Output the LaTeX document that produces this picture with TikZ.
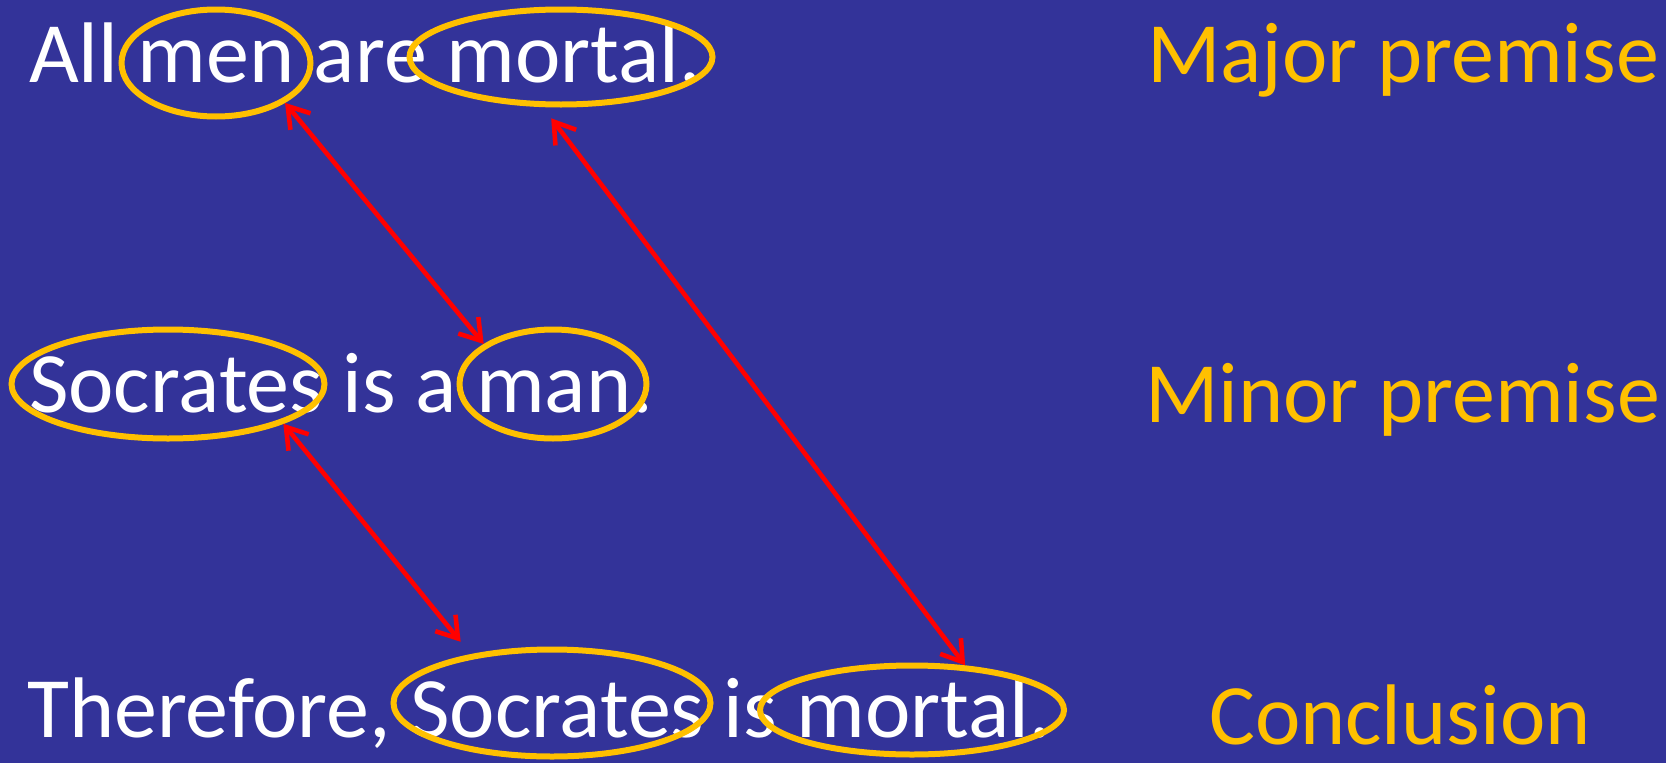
\documentclass[tikz,border=0pt]{standalone}
\usepackage{fontspec}
\setmainfont{Carlito}
\usetikzlibrary{shapes.geometric,arrows.meta}
\definecolor{bg}{HTML}{333399}
\definecolor{gold}{HTML}{FFC000}
\definecolor{arrowred}{HTML}{FF0000}
\begin{document}
\begin{tikzpicture}[x=1pt,y=-1pt,
  sent/.style={anchor=base west, inner sep=0pt, text=white, font=\fontsize{86}{100}\selectfont},
  lbl/.style={anchor=base west, inner sep=0pt, text=gold, font=\fontsize{86}{100}\selectfont},
  ring/.style={ellipse, draw=gold, line width=6pt, inner sep=0pt},
  barb/.tip={Straight Barb[length=20pt,width=26pt]},
  link/.style={draw=arrowred, line width=4.6pt, barb-barb}
]
\fill[bg] (0,0) rectangle (1666,763);
\useasboundingbox (0,0) rectangle (1666,763);
% sentences
\node[sent] (s1) at (29,82) {All men are mortal.};
\node[sent] (s2) at (29,412) {Socrates is a man.};
\node[sent] (s3) at (27,737) {Therefore, Socrates is mortal.};
% labels
\node[lbl] (l1) at (1147,82) {Major premise};
\node[lbl] (l2) at (1145,422) {Minor premise};
\node[lbl] (l3) at (1209,744) {Conclusion};
% rings
\node[ring, minimum width=189pt, minimum height=107pt] (menE) at (216,63) {};
\node[ring, minimum width=303pt, minimum height=95pt] (mortA) at (561,57) {};
\node[ring, minimum width=313pt, minimum height=109pt] (socB) at (168,384) {};
\node[ring, minimum width=187pt, minimum height=109pt] (manB) at (553,384) {};
\node[ring, minimum width=317pt, minimum height=107pt] (socC) at (552,703) {};
\node[ring, minimum width=304pt, minimum height=89pt] (mortC) at (912,710) {};
% links
\draw[link] (menE.-30) -- (manB.150);
\draw[link, shorten <=14pt] (mortA.-110) -- (mortC.40);
\draw[link, shorten >=16pt] (socB.-19) -- (socC.149);
\end{tikzpicture}
\end{document}
